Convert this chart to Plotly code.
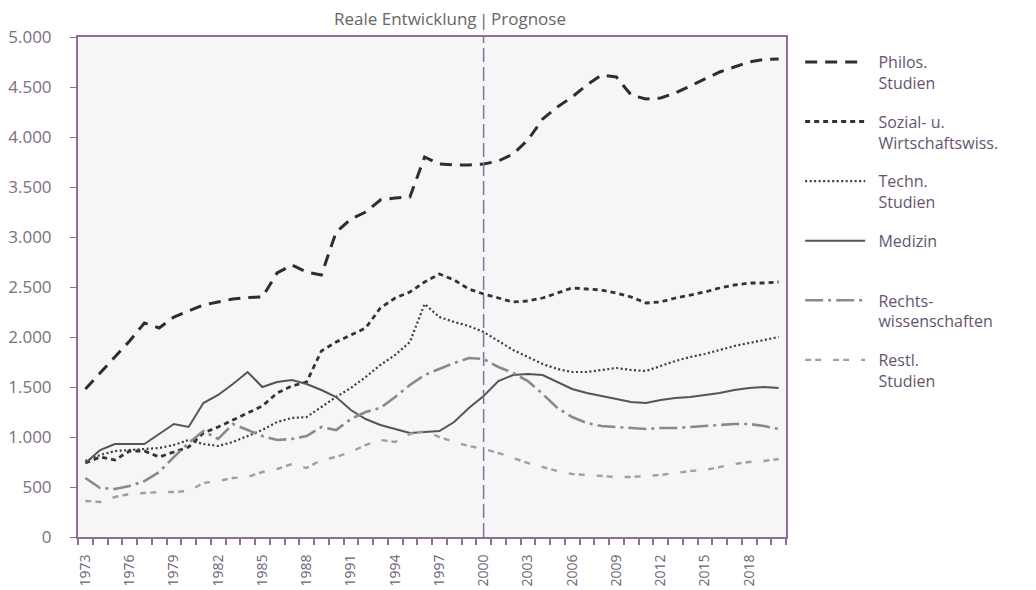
import plotly.graph_objects as go

years = list(range(1973, 2021))
tick_years = list(range(1973, 2020, 3))

philos = [1480, 1640, 1800, 1960, 2140, 2090, 2200, 2260, 2320, 2350,
          2380, 2395, 2400, 2640, 2720, 2650, 2620, 3050, 3180, 3250,
          3370, 3390, 3400, 3800, 3730, 3720, 3720, 3730, 3760, 3830,
          3970, 4180, 4300, 4400, 4520, 4620, 4600, 4420, 4380, 4390,
          4440, 4510, 4580, 4650, 4700, 4750, 4775, 4780]
sozial = [740, 800, 770, 860, 860, 800, 850, 900, 1040, 1100,
          1170, 1240, 1310, 1440, 1510, 1550, 1860, 1950, 2020, 2090,
          2290, 2390, 2450, 2550, 2630, 2570, 2480, 2430, 2390, 2350,
          2360, 2390, 2440, 2490, 2480, 2470, 2440, 2400, 2340, 2350,
          2390, 2420, 2450, 2490, 2520, 2540, 2540, 2550]
techn = [760, 820, 860, 870, 880, 890, 920, 970, 930, 910,
         950, 1010, 1070, 1150, 1190, 1200, 1300, 1400, 1490, 1600,
         1720, 1820, 1950, 2330, 2200, 2150, 2110, 2050, 1960, 1870,
         1800, 1730, 1680, 1650, 1650, 1670, 1690, 1670, 1660, 1710,
         1760, 1800, 1830, 1870, 1910, 1940, 1970, 2000]
medizin = [740, 870, 930, 930, 930, 1030, 1130, 1100, 1340, 1420,
           1530, 1650, 1500, 1550, 1570, 1530, 1470, 1400, 1270, 1180,
           1120, 1080, 1040, 1050, 1060, 1150, 1290, 1410, 1560, 1620,
           1630, 1620, 1550, 1480, 1440, 1410, 1380, 1350, 1340, 1370,
           1390, 1400, 1420, 1440, 1470, 1490, 1500, 1490]
rechts = [590, 490, 480, 510, 560, 650, 800, 940, 1060, 980,
          1130, 1070, 1010, 970, 980, 1010, 1100, 1070, 1180, 1250,
          1290, 1400, 1520, 1620, 1680, 1740, 1790, 1780, 1700, 1640,
          1560, 1430, 1290, 1200, 1140, 1110, 1100, 1090, 1080, 1090,
          1090, 1100, 1110, 1120, 1130, 1130, 1110, 1080]
restl = [360, 350, 400, 430, 440, 450, 450, 460, 540, 560,
         590, 600, 650, 680, 730, 690, 770, 800, 850, 920,
         970, 950, 1030, 1060, 1000, 950, 910, 880, 840, 790,
         740, 700, 660, 630, 620, 610, 600, 600, 610, 620,
         640, 660, 670, 700, 730, 750, 760, 780]

PURPLE = "#8a6f96"
TEXT = "#6e6274"
FONT = "Open Sans"


def legend_name(*lines):
    # a little extra gap between legend line and text
    return "<br>".join("&nbsp;&nbsp;" + ln for ln in lines)


series = [
    (legend_name("Philos.", "Studien"), philos, "#2e2e2e", 3, "12px,8px"),
    (legend_name("Sozial- u.", "Wirtschaftswiss."), sozial, "#333333", 2.8, "5px,4px"),
    (legend_name("Techn.", "Studien"), techn, "#3c3c3c", 2.2, "2px,2.5px"),
    (legend_name("Medizin", ""), medizin, "#555555", 2, "solid"),
    (legend_name("Rechts-", "wissenschaften"), rechts, "#8a8a8a", 2.6, "18px,5px,3px,5px"),
    (legend_name("Restl.", "Studien"), restl, "#a0a0a0", 2.4, "6px,4px,6px,12px"),
]

fig = go.Figure()
for i, (name, vals, color, width, dash) in enumerate(series):
    fig.add_trace(go.Scatter(
        x=years, y=vals, name=name, mode="lines",
        legendgroup=str(i),
        line=dict(color=color, width=width, dash=dash),
    ))

# Trennlinie reale Entwicklung / Prognose
fig.add_shape(type="line", xref="x", yref="paper", x0=2000, x1=2000, y0=0, y1=1,
              line=dict(color=PURPLE, width=1.5, dash="14px,5px"))

fig.add_annotation(x=2000, y=1.0, xref="x", yref="paper", yanchor="bottom", xanchor="right",
                   xshift=-5, yshift=5, text="Reale Entwicklung", showarrow=False,
                   font=dict(family=FONT, size=17, color="#666666"))
fig.add_annotation(x=2000, y=1.0, xref="x", yref="paper", yanchor="bottom", xanchor="center",
                   yshift=4, text="|", showarrow=False,
                   font=dict(family=FONT, size=17, color="#666666"))
fig.add_annotation(x=2000, y=1.0, xref="x", yref="paper", yanchor="bottom", xanchor="left",
                   xshift=5, yshift=5, text="Prognose", showarrow=False,
                   font=dict(family=FONT, size=17, color="#666666"))

# the page body adds an 8px offset, so the figure is 8px smaller on each side
fig.update_layout(
    width=1028,
    height=582,
    paper_bgcolor="white",
    plot_bgcolor="#f6f5f7",
    separators=",.",
    font=dict(family=FONT, color=TEXT),
    margin=dict(l=70, r=250, t=29, b=53),
    showlegend=True,
    legend=dict(
        x=1.02, y=0.984, xanchor="left", yanchor="top",
        font=dict(family=FONT, size=16, color="#66546e"),
        valign="top",
        itemwidth=60,
        tracegroupgap=15,
        bgcolor="rgba(0,0,0,0)",
    ),
    xaxis=dict(
        range=[1972.5, 2020.5],
        automargin=False,
        tickmode="array",
        tickvals=tick_years,
        tickangle=-90,
        ticks="",
        ticklabelstandoff=10,
        tickfont=dict(family=FONT, size=14, color=TEXT),
        showgrid=False,
        zeroline=False,
        showline=True,
        linecolor=PURPLE,
        linewidth=2,
        mirror=True,
        minor=dict(ticks="outside", tick0=1972.5, dtick=1, ticklen=6,
                   tickcolor=PURPLE, tickwidth=1.5, showgrid=False),
    ),
    yaxis=dict(
        range=[0, 5000],
        automargin=False,
        dtick=500,
        separatethousands=True,
        ticks="outside",
        ticklen=6,
        tickcolor=PURPLE,
        ticklabelstandoff=15,
        tickfont=dict(family=FONT, size=17, color="#7b6f82"),
        showgrid=False,
        zeroline=False,
        showline=True,
        linecolor=PURPLE,
        linewidth=2,
        mirror=True,
    ),
)

fig.write_html("out.html")
